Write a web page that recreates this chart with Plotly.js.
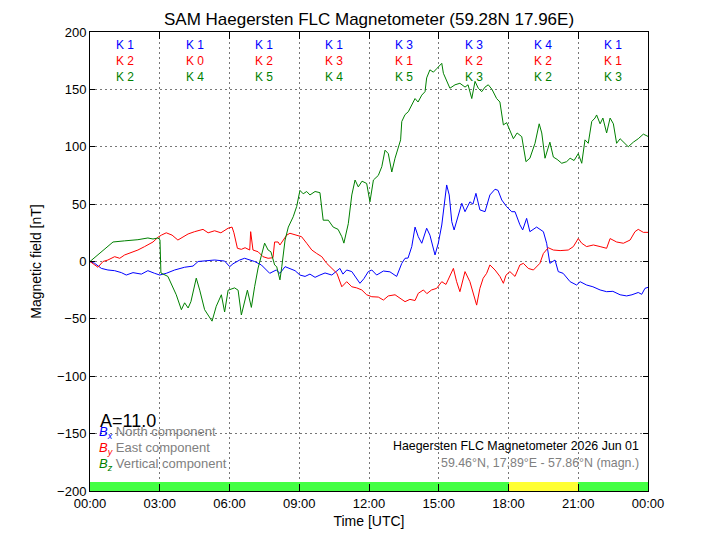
<!DOCTYPE html>
<html>
<head>
<meta charset="utf-8">
<script src="https://cdn.plot.ly/plotly-3.0.1.min.js"></script>
<style>html,body{margin:0;padding:0;background:#fff;}#chart{width:720px;height:540px;}</style>
</head>
<body>
<div id="chart"></div>
<script>
// ---- data (hours UTC, nT) ----
const xHours = [0,0.2,0.49,0.77,1.06,1.35,1.56,1.85,2.21,2.49,2.78,3.0,3.28,3.64,4.07,4.43,4.65,4.93,5.36,5.79,6.01,6.15,6.44,6.65,7.08,7.37,7.73,8.01,8.17,8.39,8.6,8.82,9.03,9.25,9.46,9.68,9.89,10.11,10.4,10.58,10.75,10.88,11.04,11.26,11.47,11.61,11.78,11.97,12.12,12.33,12.62,12.9,13.19,13.41,13.55,13.68,13.84,13.98,14.12,14.27,14.48,14.62,14.84,14.98,15.13,15.23,15.34,15.45,15.56,15.66,15.84,15.99,16.13,16.34,16.47,16.6,16.77,16.99,17.2,17.42,17.55,17.71,17.92,18.14,18.28,18.49,18.61,18.78,18.92,19.21,19.5,19.64,19.78,20.0,20.14,20.35,20.65,20.93,21.08,21.36,21.63,21.94,22.22,22.49,22.8,23.08,23.31,23.58,23.73,23.87,24.0];
const bxValues = [0,-1.6,-6,-7.4,-8,-9.7,-11.8,-9.7,-11,-8,-10.3,-11.8,-10.3,-7.4,-5,-4,0,0.7,1.3,0.4,-4.5,-2,1.3,2.8,0,-3,-10.3,-7.4,-10.3,-4.5,-6,-8,-11.8,-13,-11,-13.8,-11.8,-10,-11.8,-9,-6,-11,-7.4,-8.8,-14.6,-19,-15,-8.8,-7.4,-11.8,-8.3,-9,-13,-1.6,2.8,3,13,30,21.6,15.9,29,23,5.7,15.9,31.8,49,66.7,58,34.7,27.5,40.5,50.7,43.4,52,50,59.4,45,43.4,58,63,62,53.6,47.8,43.4,43.4,32,27.5,37.6,26,30,26,15.9,-1.6,1.3,-8.8,-10.3,-17.6,-20.5,-17.6,-20.5,-22,-24.8,-26.3,-26,-29,-30,-29,-27,-28.6,-23.4,-22.5];

const yHours = [0,0.34,0.56,0.77,1.06,1.28,1.49,1.78,2.06,2.35,2.71,2.92,3.07,3.28,3.53,3.78,4.0,4.22,4.5,4.86,5.08,5.36,5.63,5.94,6.11,6.19,6.34,6.51,6.67,6.87,6.91,7.01,7.23,7.44,7.66,7.87,7.94,8.09,8.17,8.46,8.6,8.89,9.1,9.32,9.54,9.75,9.97,10.18,10.4,10.62,10.83,11.04,11.26,11.47,11.69,11.9,12.12,12.4,12.62,12.83,13.12,13.33,13.55,13.76,13.98,14.12,14.34,14.49,14.69,14.91,15.13,15.31,15.48,15.63,15.77,15.91,16.13,16.34,16.63,16.77,16.91,17.06,17.2,17.42,17.63,17.78,17.89,18.06,18.28,18.49,18.64,18.85,19.07,19.35,19.5,19.71,19.93,20.22,20.57,20.79,21.0,21.15,21.36,21.65,21.94,22.22,22.37,22.65,22.94,23.23,23.44,23.58,23.8,24.0];
const byValues = [0,-5,0,1.3,4.2,2.8,5.7,7.7,10,13,17,21,23,25,23,18.7,21.6,24,26,28,25,26.8,25,29,30,25,11.5,10.6,12,10,26,10,8.5,4.2,2.8,3.3,17,17,14.4,23,24.6,23,21.6,15.9,10,7,4.2,-1.6,-6,-10.3,-22,-17.6,-22,-23,-24.8,-29,-30.7,-31,-33.6,-30,-29,-32,-35,-33,-34,-27.7,-24.8,-28,-24.8,-23.4,-17.6,-20,-11.8,-6,-17.6,-26.3,-8.8,-17.6,-38,-23.4,-14.6,-10.3,-3,-7.4,-13,-19,-12,-8.8,-13,-3,-1.6,-6,-7.4,-1.6,7,12,10,9.5,10,13,20,15.9,13,14.4,13,11.5,20,17,15.9,18.7,26,28,25.4,25.4];

const zHours = [0,0.49,0.99,1.49,2.06,2.49,2.71,2.92,3.01,3.05,3.35,3.71,3.93,4.07,4.22,4.34,4.57,4.72,4.93,5.25,5.43,5.65,5.79,5.94,6.22,6.37,6.51,6.77,6.94,7.08,7.23,7.51,7.66,7.78,7.94,8.03,8.17,8.25,8.39,8.53,8.74,8.89,9.03,9.17,9.32,9.46,9.68,9.89,10.03,10.25,10.46,10.67,10.83,10.92,11.11,11.26,11.4,11.54,11.7,11.9,12.04,12.19,12.4,12.55,12.69,12.83,12.98,13.12,13.26,13.36,13.41,13.55,13.69,13.84,13.98,14.11,14.27,14.41,14.48,14.62,14.77,14.91,15.13,15.2,15.34,15.48,15.7,15.91,16.13,16.26,16.42,16.56,16.7,16.85,16.99,17.13,17.29,17.49,17.63,17.78,17.92,18.06,18.21,18.37,18.57,18.75,18.92,19.14,19.32,19.43,19.57,19.78,19.93,20.09,20.29,20.5,20.65,20.82,21.0,21.15,21.29,21.43,21.58,21.72,21.79,21.94,22.06,22.22,22.37,22.51,22.65,22.8,22.97,23.15,23.37,23.58,23.8,24.0];
const bzValues = [0,8.5,17,18,19,20.5,19.6,20.5,19,-10,-13,-29,-42,-36,-40.5,-35,-14.5,-25,-42,-52,-39,-29,-44,-25,-23,-25,-46.6,-25,-40,-22,-5.7,16,10,8.5,-3,-4.5,-16,-4.5,18.7,30,39,48,62,59,61,58,61,60,36,36,30,28,21.6,16,33,58,71,65,70,68,52,71,75,82.6,97,94,78,90,98.6,106,122,128,130.5,136,142,139,145,148,160,167,165,168,172.7,164,157,151,154,155.3,152,154,142,157,151,148,152,154,150,142,139,119,121,114.6,107,112,108.8,87,90,103,120,112,90,104,91,89,85.6,87,90,88,94,85.6,106,103,122,125,127.7,120,125,112,125,120,103,107,104,100,104,107,111,109];

const kCenters = [1.5,4.5,7.5,10.5,13.5,16.5,19.5,22.5];
const kX = ["K 1","K 1","K 1","K 1","K 3","K 3","K 4","K 1"];
const kY = ["K 2","K 0","K 2","K 3","K 1","K 2","K 2","K 1"];
const kZ = ["K 2","K 4","K 5","K 4","K 5","K 3","K 2","K 3"];

const stripColors = ["#44ff44","#44ff44","#44ff44","#44ff44","#44ff44","#44ff44","#ffff33","#44ff44"];
const stripHeight = [8,8,8,8,8,8,8,8];

const tickVals = [0,3,6,9,12,15,18,21,24];
const tickText = ["00:00","03:00","06:00","09:00","12:00","15:00","18:00","21:00","00:00"];

// ---- traces ----
const traces = [
  {x: kCenters, y: stripHeight, base: -200, type: 'bar', width: 3,
   marker: {color: stripColors, line: {width: 0}}, hoverinfo: 'skip', showlegend: false},
  {x: xHours, y: bxValues, type: 'scatter', mode: 'lines', line: {color: '#0000ff', width: 1}, showlegend: false},
  {x: yHours, y: byValues, type: 'scatter', mode: 'lines', line: {color: '#ff0000', width: 1}, showlegend: false},
  {x: zHours, y: bzValues, type: 'scatter', mode: 'lines', line: {color: '#008000', width: 1}, showlegend: false}
];

const FONT = 'Arial, "Liberation Sans", sans-serif';
const annotations = [];
kCenters.forEach((c, i) => {
  annotations.push({x: c, y: 0.972, xref: 'x', yref: 'paper', yanchor: 'middle', text: kX[i], showarrow: false, font: {color: '#0000ff', size: 12, family: FONT}});
  annotations.push({x: c, y: 0.937, xref: 'x', yref: 'paper', yanchor: 'middle', text: kY[i], showarrow: false, font: {color: '#ff0000', size: 12, family: FONT}});
  annotations.push({x: c, y: 0.902, xref: 'x', yref: 'paper', yanchor: 'middle', text: kZ[i], showarrow: false, font: {color: '#008000', size: 12, family: FONT}});
});
annotations.push({x: 0.014, y: 0.152, xref: 'paper', yref: 'paper', xanchor: 'left', yanchor: 'middle', text: 'A=11.0', showarrow: false, font: {color: '#000', size: 18, family: FONT}});
const legendRows = [
  ['#0000ff', 'x', 'North component', 0.128],
  ['#ff0000', 'y', 'East component', 0.093],
  ['#008000', 'z', 'Vertical component', 0.058]
];
legendRows.forEach(r => {
  annotations.push({x: 0.012, y: r[3], xref: 'paper', yref: 'paper', xanchor: 'left', yanchor: 'middle', showarrow: false,
    text: '<span style="color:' + r[0] + '"><i>B<sub>' + r[1] + '</sub></i></span> ' + r[2],
    font: {color: '#808080', size: 13, family: FONT}});
});
annotations.push({x: 0.988, y: 0.098, xref: 'paper', yref: 'paper', xanchor: 'right', yanchor: 'middle', showarrow: false,
  text: 'Haegersten FLC Magnetometer 2026 Jun 01', font: {color: '#000', size: 12.4, family: FONT}});
annotations.push({x: 0.988, y: 0.060, xref: 'paper', yref: 'paper', xanchor: 'right', yanchor: 'middle', showarrow: false,
  text: '59.46°N, 17.89°E - 57.86°N (magn.)', font: {color: '#808080', size: 12.4, family: FONT}});

const layout = {
  width: 720, height: 540,
  margin: {l: 90, r: 72, t: 32, b: 49},
  paper_bgcolor: '#fff', plot_bgcolor: '#fff',
  font: {family: FONT, size: 13, color: '#000'},
  title: {text: 'SAM Haegersten FLC Magnetometer (59.28N 17.96E)', font: {size: 17, family: FONT, color: '#000'}, x: 0.5125, xanchor: 'center', y: 0.965, yanchor: 'middle'},
  showlegend: false,
  bargap: 0,
  xaxis: {range: [0, 24], tickvals: tickVals, ticktext: tickText, ticks: 'inside', ticklen: 7, tickcolor: '#000',
    showline: true, linecolor: '#000', linewidth: 1, mirror: 'ticks', showgrid: true, gridcolor: '#777', griddash: '2px,3px', gridwidth: 1,
    zeroline: false, tickfont: {size: 13}, title: {text: 'Time [UTC]', font: {size: 14}, standoff: 6}},
  yaxis: {range: [-200, 200], dtick: 50, tick0: 0, ticks: 'inside', ticklen: 5, tickcolor: '#000',
    showline: true, linecolor: '#000', linewidth: 1, mirror: 'ticks', showgrid: true, gridcolor: '#777', griddash: '2px,3px', gridwidth: 1,
    zeroline: false, tickfont: {size: 13}, title: {text: 'Magnetic field [nT]', font: {size: 14}, standoff: 12}},
  annotations: annotations
};

Plotly.newPlot('chart', traces, layout, {displayModeBar: false, staticPlot: true});
</script>
</body>
</html>
